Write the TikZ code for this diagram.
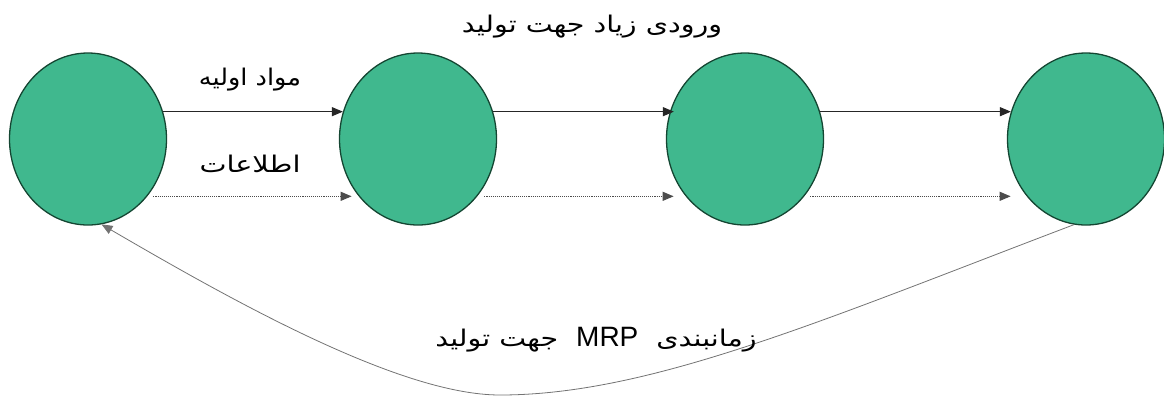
\documentclass[tikz,border=0pt]{standalone}
\usepackage{fontspec}
\setmainfont{Liberation Serif}
\newfontfamily\arabicfont[Script=Arabic]{DejaVu Sans}
\newfontfamily\latinsans{Liberation Sans}
\TeXXeTstate=1
\usetikzlibrary{arrows.meta,shapes.geometric}
\definecolor{nodegreen}{RGB}{64,184,142}
\definecolor{rimgreen}{RGB}{20,70,50}
\newcommand{\widen}[2]{\scalebox{#1}[1]{#2}}
\begin{document}
\begin{tikzpicture}[x=1pt,y=-1pt,
  stage/.style={ellipse, draw=rimgreen, line width=1.3pt, fill=nodegreen,
    minimum width=157pt, minimum height=172pt, inner sep=0pt},
  flow/.style={-{Triangle[length=11pt,width=9pt]}, line width=1.1pt, black!85},
  info/.style={flow, densely dotted, black!70},
  feedback/.style={-{Triangle[length=11pt,width=9pt]}, line width=0.8pt, black!55},
  lbl/.style={inner sep=0pt, font=\arabicfont\fontsize{23}{26}\selectfont}]
\useasboundingbox (0,0) rectangle (1164,397);

\node[stage] (c1) at (88,139) {};
\node[stage] (c2) at (418,139) {};
\node[stage] (c3) at (745,139) {};
\node[stage] (c4) at (1086,139) {};

\draw[flow] (c1.20) -- (c2.160);
\draw[flow] (c2.20) -- ([xshift=4pt]c3.160);
\draw[flow] (c3.20) -- (c4.160);

\draw[info, shorten <=6pt, shorten >=7pt] (c1.-44) -- (c2.-136);
\draw[info, shorten <=7pt, shorten >=12pt] (c2.-44) -- (c3.-136);
\draw[info, shorten <=6pt, shorten >=16pt] (c3.-44) -- (c4.-136);

\coordinate (low) at (500,395);
\draw[feedback] (c4.-98) .. controls (823,320) and (650,395) .. (low)
  .. controls (400,395) and (233,301) .. (c1.-81);

\node[lbl] (t1) at (250,80) {\widen{1.11}{\beginR مواد اولیه\endR}};
\node[lbl] (t2) at (250,164) {\widen{1.25}{\beginR اطلاعات\endR}};
\node[lbl] (t3) at (592,27) {\widen{1.24}{\beginR ورودی زیاد جهت تولید\endR}};
\node[lbl] (t4) at (596,340) {\widen{1.24}{\beginR جهت تولید\endR}\hspace{18pt}{\latinsans\fontsize{28}{30}\selectfont MRP}\hspace{18pt}\widen{1.24}{\beginR زمانبندی\endR}};
\end{tikzpicture}
\end{document}
